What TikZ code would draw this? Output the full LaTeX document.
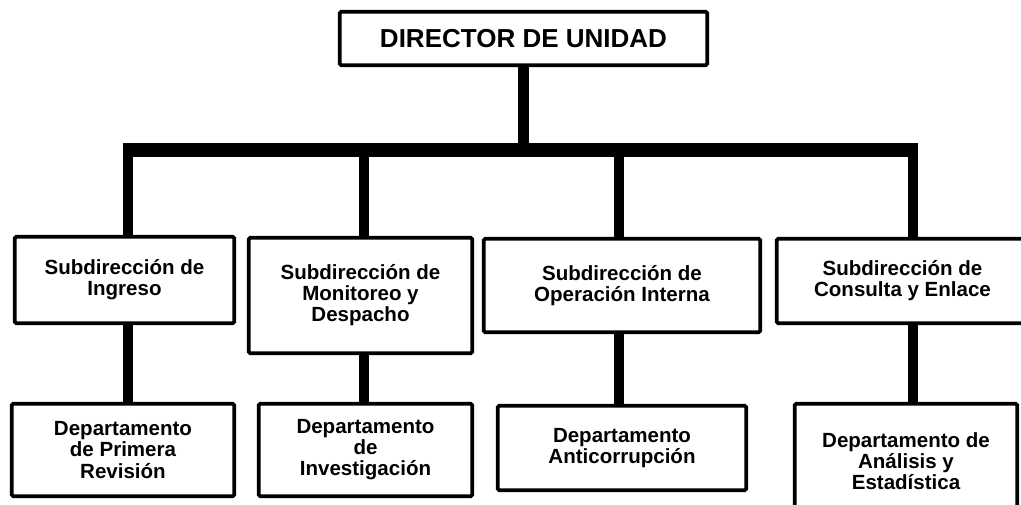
\documentclass[tikz,border=0pt]{standalone}
\usepackage{fontspec}
\setmainfont{Liberation Sans}

\tikzset{
    unitbox/.style={draw, line width=2.6pt, rounded corners=1pt, align=center, inner sep=0pt,
        font=\bfseries\fontsize{14.6}{15}\selectfont},
    link/.style={line width=7.1pt}
}

\begin{document}
\begin{tikzpicture}
        \clip (0,0) rectangle (25.525,-12.6);

        \node[unitbox, minimum width=9.185cm, minimum height=1.335cm,
              font=\bfseries\fontsize{18.5}{20}\selectfont] (dir) at (13.0875,-0.9625) {DIRECTOR DE UNIDAD};

        \node[unitbox, minimum width=5.485cm, minimum height=2.16cm] (s1) at (3.1125,-7.0) {Subdirección de\\Ingreso};
        \node[unitbox, minimum width=5.585cm, minimum height=2.885cm] (s2) at (9.0125,-7.3875) {Subdirección de\\Monitoreo y\\Despacho};
        \node[unitbox, minimum width=6.91cm, minimum height=2.335cm] (s3) at (15.55,-7.1375) {Subdirección de\\Operación Interna};
        \node[unitbox, minimum width=6.285cm, minimum height=2.11cm] (s4) at (22.5625,-7.025) {Subdirección de\\Consulta y Enlace};

        \node[unitbox, minimum width=5.56cm, minimum height=2.31cm] (d1) at (3.075,-11.25) {Departamento\\de Primera\\Revisión};
        \node[unitbox, minimum width=5.335cm, minimum height=2.31cm] (d2) at (9.1375,-11.25) {Departamento\\de\\Investigación};
        \node[unitbox, minimum width=6.21cm, minimum height=2.11cm] (d3) at (15.55,-11.2) {Departamento\\Anticorrupción};
        \node[unitbox, minimum width=5.56cm, minimum height=2.86cm] (d4) at (22.65,-11.525) {Departamento de\\Análisis y\\Estadística};

        \foreach \n/\x in {1/3.2, 2/9.1, 3/15.475, 4/22.825}
            \coordinate (b\n) at (\x,-3.75);

        \draw[line width=10pt] ([xshift=-3.55pt]b1) -- ([xshift=3.55pt]b4);
        \draw[line width=7.8pt] (dir.south) -- (dir.south |- b1);

        \foreach \n in {1,...,4}{
            \draw[link] (b\n) -- (b\n |- s\n.north);
            \draw[link] (s\n.south -| b\n) -- (b\n |- d\n.north);
        }
    \end{tikzpicture}
\end{document}
